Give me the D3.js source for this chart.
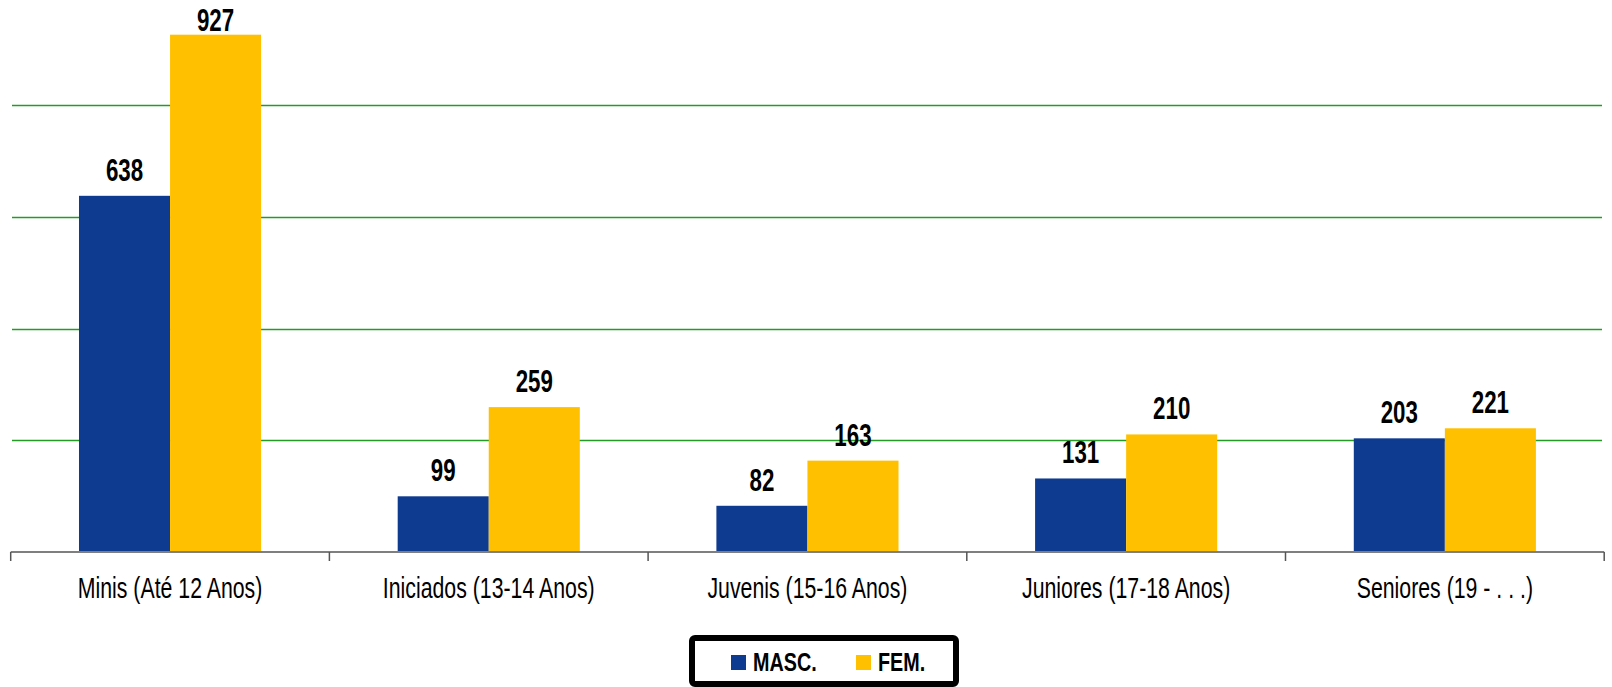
<!DOCTYPE html>
<html>
<head>
<meta charset="utf-8">
<script src="https://cdn.jsdelivr.net/npm/d3@7"></script>
<style>
  body { margin: 0; background: #fff; }
  text { font-family: "Liberation Sans", Arial, sans-serif; }
</style>
</head>
<body>
<div id="chart"></div>
<script>
// data
var categories = ["Minis (Até 12 Anos)", "Iniciados (13-14 Anos)", "Juvenis (15-16 Anos)", "Juniores (17-18 Anos)", "Seniores (19 - . . .)"];
var series = ["MASC.", "FEM."];
var masc = [638, 99, 82, 131, 203];
var fem = [927, 259, 163, 210, 221];
var gridTicks = [200, 400, 600, 800];

var colors = { "MASC.": "#0e3a8f", "FEM.": "#ffc000" };

function draw() {
    var width = 1612, height = 687;
    var svg = d3.select("#chart").append("svg")
        .attr("width", width)
        .attr("height", height);

    var x0 = d3.scaleBand()
        .domain(categories)
        .range([10.7, 1604.2])
        .padding(0);

    var x1 = d3.scaleBand()
        .domain(series)
        .range([0, x0.bandwidth()])
        .paddingInner(0)
        .paddingOuter(0.75);

    var y = d3.scaleLinear()
        .domain([0, 1000])
        .range([551.5, -6]);

    // gridlines
    svg.append("g").selectAll("line")
        .data(gridTicks)
        .join("line")
            .attr("x1", 12)
            .attr("x2", 1602)
            .attr("y1", function(d) { return Math.round(y(d)) + 0.5; })
            .attr("y2", function(d) { return Math.round(y(d)) + 0.5; })
            .attr("stroke", "#259a25")
            .attr("stroke-width", 1.3);

    var data = categories.map(function(c, i) {
        return { cat: c, values: [ {key: "MASC.", v: masc[i]}, {key: "FEM.", v: fem[i]} ] };
    });

    var groups = svg.append("g").selectAll("g")
        .data(data)
        .join("g")
            .attr("transform", function(d) { return "translate(" + x0(d.cat) + ",0)"; });

    groups.selectAll("rect")
        .data(function(d) { return d.values; })
        .join("rect")
            .attr("x", function(d) { return x1(d.key); })
            .attr("y", function(d) { return y(d.v); })
            .attr("width", x1.bandwidth())
            .attr("height", function(d) { return y(0) - y(d.v); })
            .attr("fill", function(d) { return colors[d.key]; });

    // value labels (squeezed to look condensed)
    groups.selectAll("text.val")
        .data(function(d) { return d.values; })
        .join("text")
            .attr("class", "val")
            .attr("text-anchor", "middle")
            .attr("transform", function(d) {
                var ty = Math.max(y(d.v) - 15, 31);
                return "translate(" + (x1(d.key) + x1.bandwidth() / 2) + "," + ty + ") scale(0.72,1)";
            })
            .attr("font-size", 31)
            .attr("font-weight", "bold")
            .attr("fill", "#000")
            .text(function(d) { return d.v; });

    // x axis
    var axis = svg.append("g");
    axis.append("line")
        .attr("x1", 10.7).attr("x2", 1604.2)
        .attr("y1", 552).attr("y2", 552)
        .attr("stroke", "#7f7f7f")
        .attr("stroke-width", 2);
    var bounds = categories.map(function(c) { return x0(c); }).concat([x0.range()[1]]);
    axis.selectAll("line.tick")
        .data(bounds)
        .join("line")
            .attr("class", "tick")
            .attr("x1", function(d) { return d; })
            .attr("x2", function(d) { return d; })
            .attr("y1", 552).attr("y2", 561)
            .attr("stroke", "#555")
            .attr("stroke-width", 1.5);
    axis.selectAll("text")
        .data(categories)
        .join("text")
            .attr("text-anchor", "middle")
            .attr("transform", function(d) {
                return "translate(" + (x0(d) + x0.bandwidth() / 2) + ",598) scale(0.71,1)";
            })
            .attr("font-size", 30)
            .attr("fill", "#000")
            .text(function(d) { return d; });

    // legend
    var legend = svg.append("g");
    legend.append("rect")
        .attr("x", 692).attr("y", 638)
        .attr("width", 264).attr("height", 46)
        .attr("rx", 3)
        .attr("fill", "#fff")
        .attr("stroke", "#000")
        .attr("stroke-width", 6);
    var legX = [731, 856];
    var items = legend.selectAll("g")
        .data(series)
        .join("g")
            .attr("transform", function(d, i) { return "translate(" + legX[i] + ",655)"; });
    items.append("rect")
        .attr("width", 15).attr("height", 15)
        .attr("fill", function(d) { return colors[d]; });
    items.append("text")
        .attr("transform", "translate(22,16) scale(0.76,1)")
        .attr("font-size", 26)
        .attr("font-weight", "bold")
        .attr("fill", "#000")
        .text(function(d) { return d; });
}
draw();
</script>
</body>
</html>
